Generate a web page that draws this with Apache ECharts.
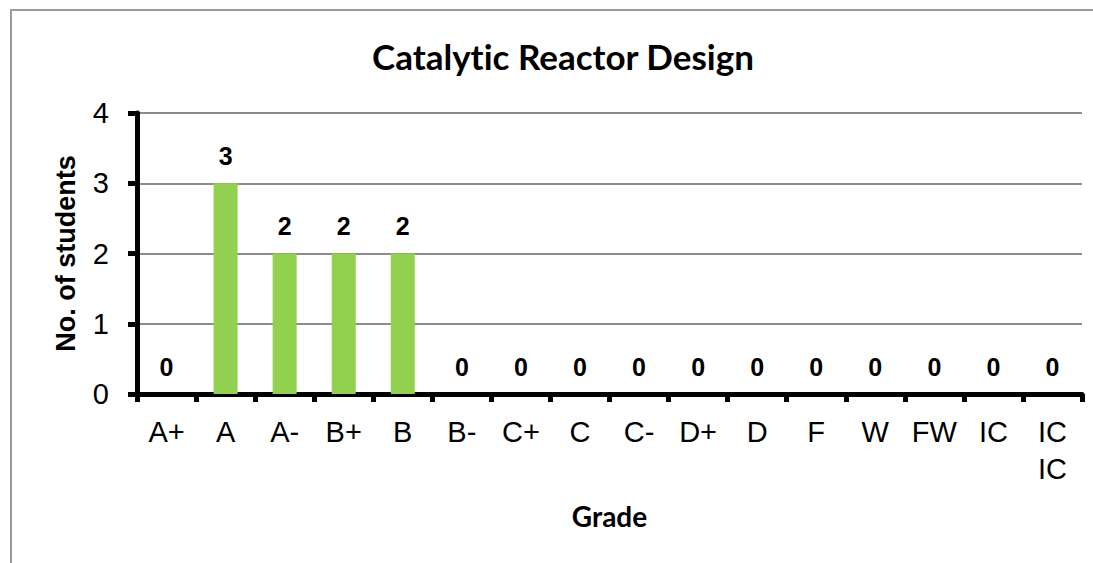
<!DOCTYPE html>
<html>
<head>
<meta charset="utf-8">
<script src="https://cdn.jsdelivr.net/npm/echarts@6/dist/echarts.min.js"></script>
<style>html,body{margin:0;padding:0;background:#fff}#c{width:1093px;height:563px}#c text{font-variant-ligatures:none;font-feature-settings:"liga" 0,"clig" 0}</style>
</head>
<body>
<div id="c"></div>
<script>
var titleText = 'Catalytic Reactor Design';
var grades = ['A+','A','A-','B+','B','B-','C+','C','C-','D+','D','F','W','FW','IC','IC\nIC'];
var students = [0,3,2,2,2,0,0,0,0,0,0,0,0,0,0,0];
var yTicks = [0,1,2,3,4];

var chart = echarts.init(document.getElementById('c'), null, {renderer:'svg'});
chart.setOption({
  animation:false,
  backgroundColor:'#fff',
  graphic:[{type:'rect', shape:{x:11,y:10,width:1200,height:700}, style:{fill:'none', stroke:'#9a9a9a', lineWidth:2}, silent:true}],
  title:{text:titleText, left:367, top:33, textStyle:{fontFamily:'Lato', fontWeight:'bold', fontSize:35, color:'#000'}},
  grid:{left:137, right:11, top:113, bottom:169, containLabel:false},
  xAxis:{
    type:'category', data:grades,
    name:'Grade', nameLocation:'middle', nameGap:108,
    nameTextStyle:{fontFamily:'Lato', fontWeight:'bold', fontSize:28, color:'#000'},
    axisLine:{lineStyle:{color:'#000', width:5}},
    axisTick:{show:true, length:8, lineStyle:{color:'#000', width:5}},
    axisLabel:{fontFamily:'Liberation Sans', fontSize:29, color:'#000', margin:19, lineHeight:37, interval:0}
  },
  yAxis:{
    type:'value', min:yTicks[0], max:yTicks[yTicks.length-1], interval:1,
    name:'No. of students', nameLocation:'middle', nameGap:58,
    nameTextStyle:{fontFamily:'Liberation Sans', fontWeight:'bold', fontSize:27, color:'#000'},
    axisLine:{show:true, lineStyle:{color:'#000', width:5}},
    axisTick:{show:true, length:9, lineStyle:{color:'#000', width:5}},
    axisLabel:{fontFamily:'Liberation Sans', fontSize:29, color:'#000', margin:28},
    splitLine:{lineStyle:{color:'#8c8c8c', width:2}}
  },
  series:[{
    type:'bar', data:students, barWidth:24,
    itemStyle:{color:'#92D050'},
    label:{show:true, position:'top', distance:15, fontFamily:'Liberation Sans', fontWeight:'bold', fontSize:25, color:'#000'}
  }]
});
</script>
</body>
</html>
